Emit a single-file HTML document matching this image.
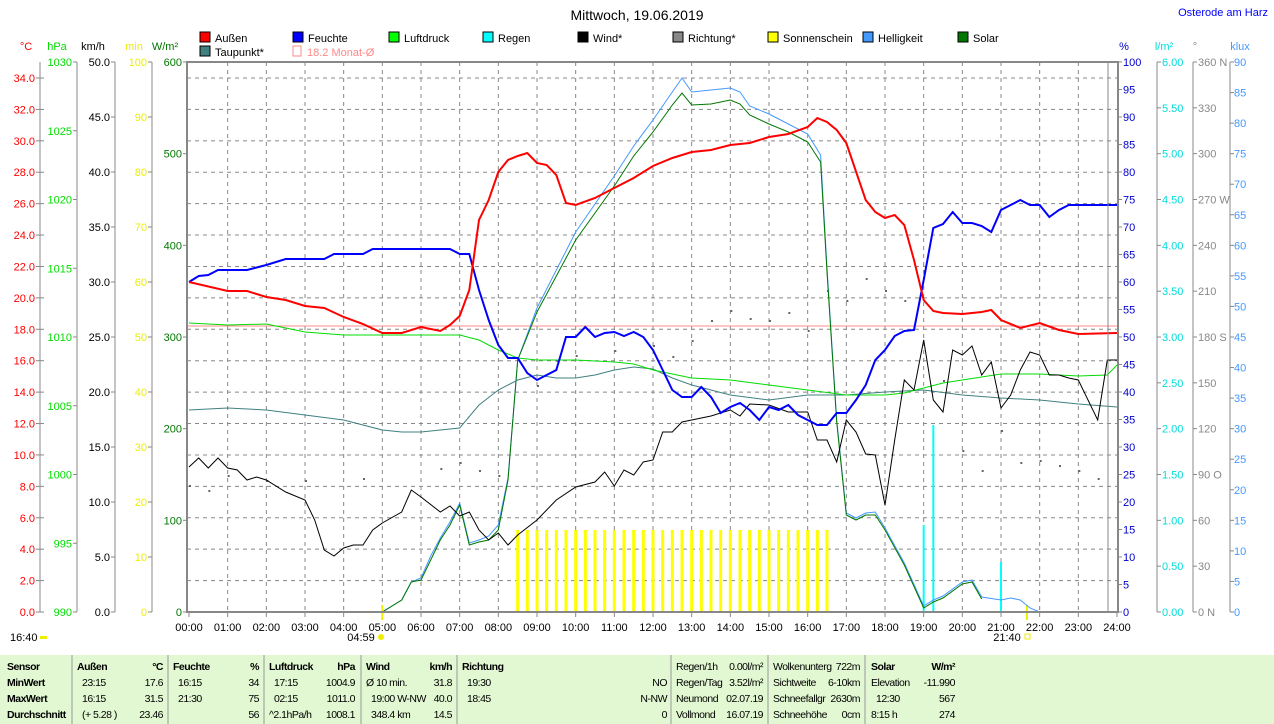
<!DOCTYPE html>
<html><head><meta charset="utf-8"><style>
body{margin:0;width:1274px;height:724px;background:#fff;overflow:hidden;font-family:"Liberation Sans",sans-serif}
svg{position:absolute;left:0;top:0}
.t text{font-size:10.5px;letter-spacing:-0.5px}
</style></head><body>
<svg id="s" width="1274" height="724" font-family="Liberation Sans, sans-serif" font-size="11"></svg>
<script>
const S=document.getElementById('s');let h='';
const X=t=>189+t*928/24;
function P(str){return str.trim().split(/\s+/).map(p=>{const [t,y]=p.split(',');const [a,b]=t.split(':');return X(+a+(+b)/60).toFixed(1)+','+y}).join(' ')}
function line(d,c,w){h+=`<polyline points="${P(d)}" fill="none" stroke="${c}" stroke-width="${w}"/>`}
function txt(x,y,s,c,a,extra){h+=`<text x="${x}" y="${y}" fill="${c}" text-anchor="${a||'start'}" ${extra||''}>${s}</text>`}
h+=`<rect x="0" y="655" width="1274" height="69" fill="#e2f8d2"/>`;
for(let i=1;i<24;i++)h+=`<line x1="${X(i)}" y1="62" x2="${X(i)}" y2="612" stroke="#888" stroke-dasharray="4,4"/>`;
for(let v=2;v<=34;v+=2){let y=612-v*15.706;h+=`<line x1="187" y1="${y}" x2="1117" y2="${y}" stroke="#888" stroke-dasharray="4,4"/>`}
h+=`<line x1="40" y1="62" x2="40" y2="612" stroke="#888"/>`;
for(let v=0;v<=34;v+=2){let y=612-v*15.706;h+=`<line x1="36" y1="${y}" x2="44" y2="${y}" stroke="#888"/>`;txt(35,y+4,v.toFixed(1),'#f00','end')}
h+=`<line x1="77" y1="62" x2="77" y2="612" stroke="#888"/>`;
for(let v=990;v<=1030;v+=5){let y=612-(v-990)*13.75;h+=`<line x1="73" y1="${y}" x2="77" y2="${y}" stroke="#888"/>`;txt(72,y+4,v,'#0d0','end')}
h+=`<line x1="115" y1="62" x2="115" y2="612" stroke="#888"/>`;
for(let v=0;v<=50;v+=5){let y=612-v*11;h+=`<line x1="111" y1="${y}" x2="115" y2="${y}" stroke="#888"/>`;txt(110,y+4,v.toFixed(1),'#000','end')}
h+=`<line x1="152" y1="62" x2="152" y2="612" stroke="#888"/>`;
for(let v=0;v<=100;v+=10){let y=612-v*5.5;h+=`<line x1="148" y1="${y}" x2="152" y2="${y}" stroke="#888"/>`;txt(147,y+4,v,'#ee0','end')}
for(let v=0;v<=600;v+=100){let y=612-v*550/600;h+=`<line x1="183" y1="${y}" x2="187" y2="${y}" stroke="#888"/>`;txt(182,y+4,v,'#070','end')}
txt(26,50,'°C','#f00','middle');txt(57,50,'hPa','#0d0','middle');txt(93,50,'km/h','#000','middle');txt(134,50,'min','#ee0','middle');txt(165,50,'W/m²','#070','middle');
for(let v=0;v<=100;v+=5){let y=612-v*5.5;h+=`<line x1="1118" y1="${y}" x2="1122" y2="${y}" stroke="#888"/>`;txt(1123,y+4,v,'#00c')}
h+=`<line x1="1157" y1="62" x2="1157" y2="612" stroke="#888"/>`;
for(let v=0;v<=6;v+=0.5){let y=612-v*550/6;h+=`<line x1="1157" y1="${y}" x2="1161" y2="${y}" stroke="#888"/>`;txt(1162,y+4,v.toFixed(2),'#0dd')}
h+=`<line x1="1193" y1="62" x2="1193" y2="612" stroke="#888"/>`;
const dl={0:'0 N',90:'90 O',180:'180 S',270:'270 W',360:'360 N'};
for(let v=0;v<=360;v+=30){let y=612-v*550/360;h+=`<line x1="1193" y1="${y}" x2="1197" y2="${y}" stroke="#888"/>`;txt(1198,y+4,dl[v]||v,'#888')}
h+=`<line x1="1230" y1="62" x2="1230" y2="612" stroke="#888"/>`;
for(let v=0;v<=90;v+=5){let y=612-v*550/90;h+=`<line x1="1230" y1="${y}" x2="1234" y2="${y}" stroke="#888"/>`;txt(1234,y+4,v,'#49f')}
txt(1124,50,'%','#00c','middle');txt(1164,50,'l/m²','#0dd','middle');txt(1195,50,'°','#888','middle');txt(1240,50,'klux','#49f','middle');
for(let i=0;i<=24;i++){h+=`<line x1="${X(i)}" y1="612" x2="${X(i)}" y2="617" stroke="#888"/>`;txt(X(i),631,(i<10?'0':'')+i+':00','#000','middle')}
txt(361,641,'04:59','#000','middle');h+=`<circle cx="381" cy="637" r="3" fill="#ee0"/>`;
txt(1007,641,'21:40','#000','middle');h+=`<rect x="1025" y="634" width="5" height="5" fill="none" stroke="#ee0"/>`;
txt(10,641,'16:40','#000');h+=`<rect x="40" y="636" width="7" height="3" fill="#ee0"/>`;
txt(637,20,'Mittwoch, 19.06.2019','#000','middle','font-size="14"');
txt(1268,16,'Osterode am Harz','#00f','end');
const L=[['Außen','#f00',200],['Feuchte','#00f',293],['Luftdruck','#0f0',389],['Regen','#0ff',483],['Wind*','#000',578],['Richtung*','#888',673],['Sonnenschein','#ff0',768],['Helligkeit','#49f',863],['Solar','#070',958]];
L.forEach(l=>{h+=`<rect x="${l[2]}" y="32" width="10" height="10" fill="${l[1]}" stroke="#000"/>`;txt(l[2]+15,42,l[0],'#000')});
h+=`<rect x="200" y="46" width="10" height="10" fill="#408080" stroke="#000"/>`;txt(215,56,'Taupunkt*','#000');
h+=`<rect x="293" y="46" width="8" height="10" fill="none" stroke="#f88"/>`;txt(307,56,'18.2 Monat-Ø','#f88');
for(let t=8.5;t<=16.51;t+=0.25)h+=`<rect x="${X(t)-1.5}" y="530" width="3" height="82" fill="#ff0"/>`;
h+=`<rect x="${X(5)-1}" y="605" width="2" height="15" fill="#ee0"/><rect x="${X(21.67)-1}" y="605" width="2" height="15" fill="#ee0"/>`;
h+=`<rect x="${X(19)-1}" y="525" width="2" height="87" fill="#0ff"/><rect x="${X(19.25)-1}" y="425" width="2" height="187" fill="#0ff"/><rect x="${X(21)-1}" y="562" width="2" height="50" fill="#0ff"/>`;
h+=`<line x1="187" y1="326" x2="1117" y2="326" stroke="#f88"/>`;
const dots=[[0,485],[0.5,490],[1,475],[2,480],[3,480],[4.5,478],[6.5,468],[7,462],[7.5,470],[8,475],[9,385],[9.5,360],[10,355],[11,350],[12,345],[12.5,356],[13,340],[13.5,320],[14,310],[14.5,318],[15,320],[15.5,312],[16,330],[16.5,290],[17,300],[17.5,278],[18,290],[18.5,300],[19,270],[19.5,380],[20,450],[20.5,470],[21,430],[21.5,462],[22,460],[22.5,465],[23,470],[23.5,478]];
dots.forEach(d=>h+=`<rect x="${X(d[0])}" y="${d[1]}" width="2" height="2" fill="#666"/>`);
line('0:00,612 5:00,612 5:30,600 5:45,582 6:00,578 6:15,556 6:30,538 6:45,522 7:00,503 7:15,543 7:30,540 7:45,536 8:00,525 8:15,478 8:30,360 9:00,308 10:00,232 11:00,176 11:30,146 12:00,120 12:30,92 12:45,78 13:00,92 13:30,90 14:00,88 14:15,92 14:30,106 15:00,114 15:30,124 16:00,134 16:20,155 16:30,268 16:45,420 17:00,513 17:15,518 17:30,513 17:45,512 18:00,528 18:30,563 19:00,606 19:15,600 19:30,596 20:00,582 20:15,580 20:30,597 21:00,600 21:15,598 21:30,600 21:45,608 22:00,612','#49f',1);
line('0:00,612 5:00,612 5:30,600 5:45,582 6:00,580 6:15,560 6:30,540 6:45,525 7:00,505 7:15,545 7:30,542 7:45,540 8:00,530 8:15,480 8:30,360 9:00,312 10:00,240 11:00,186 11:30,156 12:00,132 12:30,105 12:45,93 13:00,105 13:30,104 14:00,100 14:15,104 14:30,115 15:00,124 15:30,132 16:00,142 16:20,162 16:30,272 16:45,422 17:00,515 17:15,520 17:30,515 17:45,515 18:00,530 18:30,565 19:00,608 19:15,602 19:30,598 20:00,584 20:15,582 20:30,599','#070',1);
line('0:00,410 1:00,408 2:00,410 3:00,415 4:00,420 5:00,430 5:30,432 6:00,432 7:00,428 7:30,405 8:00,390 8:30,380 9:00,375 9:30,378 10:00,378 10:30,375 11:00,370 11:30,367 12:00,369 12:30,378 13:00,385 14:00,395 15:00,400 16:00,395 17:00,395 18:00,392 19:00,390 20:00,395 21:00,398 22:00,400 23:00,404 24:00,407','#408080',1);
line('0:00,323 1:00,325 2:00,324 3:00,332 4:00,335 7:00,335 7:30,340 8:00,350 8:30,358 9:00,360 10:00,360 11:00,362 11:30,364 12:00,370 13:00,378 14:00,380 15:00,385 16:00,390 17:00,395 18:00,395 18:30,393 19:00,388 19:30,383 20:00,380 20:30,377 21:00,374 22:00,374 23:00,376 23:45,375 24:00,365','#0d0',1);
line('0:00,467 0:15,458 0:30,468 0:45,458 1:00,468 1:15,470 1:30,480 1:45,477 2:00,480 2:30,492 3:00,500 3:15,520 3:30,550 3:45,556 4:00,548 4:15,545 4:30,545 4:45,530 5:00,523 5:30,512 5:45,490 6:00,497 6:30,512 6:45,506 7:00,516 7:15,512 7:30,530 7:45,540 8:00,533 8:15,545 8:30,535 9:00,520 9:30,500 10:00,487 10:30,482 10:45,472 11:00,486 11:15,470 11:30,475 11:45,462 12:00,460 12:15,432 12:30,432 12:45,422 13:00,420 13:30,416 14:00,410 14:15,416 14:30,404 15:00,405 15:30,412 16:00,412 16:15,440 16:30,440 16:45,462 17:00,420 17:15,432 17:30,454 17:45,455 18:00,505 18:15,440 18:30,380 18:45,390 19:00,340 19:15,400 19:30,412 19:45,350 20:00,355 20:15,346 20:30,375 20:45,362 21:00,408 21:15,395 21:30,370 21:45,352 22:00,355 22:15,375 22:30,375 22:45,378 23:00,380 23:30,420 23:45,360 24:00,360','#000',1);
line('0:00,282 0:15,276 0:30,275 0:45,270 1:30,270 2:00,265 2:30,259 3:30,259 3:45,254 4:30,254 4:45,249 6:45,249 7:00,254 7:15,254 7:30,290 7:45,320 8:00,345 8:15,358 8:30,358 8:45,373 9:00,380 9:30,370 9:45,337 10:00,337 10:15,327 10:30,337 10:45,333 11:00,332 11:15,336 11:30,332 11:45,337 12:00,350 12:15,370 12:30,390 12:45,397 13:00,397 13:15,387 13:30,397 13:45,413 14:00,407 14:15,403 14:30,410 14:45,420 15:00,407 15:15,410 15:30,405 15:45,415 16:00,420 16:15,425 16:30,425 16:45,413 17:00,413 17:15,400 17:30,385 17:45,360 18:00,350 18:15,336 18:30,331 18:45,330 19:00,280 19:15,228 19:30,224 19:45,212 20:00,223 20:15,223 20:30,226 20:45,232 21:00,210 21:15,205 21:30,200 21:45,205 22:00,205 22:15,217 22:30,210 22:45,205 23:00,205 24:00,205','#00f',2);
line('0:00,282 1:00,291 1:30,291 2:00,297 2:30,300 3:00,306 3:30,308 4:00,317 4:30,324 5:00,333 5:30,333 6:00,327 6:30,331 6:45,325 7:00,316 7:15,290 7:30,220 7:45,200 8:00,172 8:15,160 8:30,156 8:45,153 9:00,163 9:15,165 9:30,175 9:45,203 10:00,205 10:30,198 11:00,188 11:30,178 12:00,166 12:30,158 13:00,152 13:30,150 14:00,145 14:30,143 15:00,137 15:30,134 16:00,127 16:15,118 16:30,122 16:45,130 17:00,143 17:30,200 17:45,212 18:00,218 18:15,215 18:30,225 18:45,260 19:00,300 19:15,311 19:30,313 20:00,314 20:30,312 20:45,310 21:00,320 21:30,328 22:00,323 22:30,330 23:00,334 24:00,333','#f00',2);
h+=`<rect x="187" y="62" width="931" height="550" fill="none" stroke="#888" stroke-width="2"/>`;
h+=`<line x1="1108" y1="62" x2="1108" y2="612" stroke="#888"/>`;
h+='<g class="t">';
[72,168,264,361,457,671,768,865].forEach(x=>h+=`<line x1="${x}" y1="655" x2="${x}" y2="724" stroke="#999"/>`);
const rows=[665,681,697,713];
const B='font-weight="bold"';
['Sensor','MinWert','MaxWert','Durchschnitt'].forEach((s,i)=>txt(7,rows[i]+5,s,'#000','start',B));
function col(x1,x2,hdr,unit,data){txt(x1,rows[0]+5,hdr,'#000','start',B);txt(x2,rows[0]+5,unit,'#000','end',B);data.forEach((d,i)=>{txt(x1+d[2],rows[i+1]+5,d[0],'#000');txt(x2,rows[i+1]+5,d[1],'#000','end')})}
col(77,163,'Außen','°C',[['23:15','17.6',5],['16:15','31.5',5],['(+ 5.28 )','23.46',5]]);
col(173,259,'Feuchte','%',[['16:15','34',5],['21:30','75',5],['','56',5]]);
col(269,355,'Luftdruck','hPa',[['17:15','1004.9',5],['02:15','1011.0',5],['^2.1hPa/h','1008.1',0]]);
col(366,452,'Wind','km/h',[['Ø 10 min.','31.8',0],['19:00   W-NW','40.0',5],['348.4 km','14.5',5]]);
txt(462,670,'Richtung','#000','start',B);
[['19:30','NO'],['18:45','N-NW'],['','0']].forEach((d,i)=>{txt(467,rows[i+1]+5,d[0],'#000');txt(667,rows[i+1]+5,d[1],'#000','end')});
const r2=[['Regen/1h','0.00l/m²'],['Regen/Tag','3.52l/m²'],['Neumond','02.07.19'],['Vollmond','16.07.19']];
r2.forEach((d,i)=>{txt(676,rows[i]+5,d[0],'#000');txt(763,rows[i]+5,d[1],'#000','end')});
const r3=[['Wolkenunterg','722m'],['Sichtweite','6-10km'],['Schneefallgr','2630m'],['Schneehöhe','0cm']];
r3.forEach((d,i)=>{txt(773,rows[i]+5,d[0],'#000');txt(860,rows[i]+5,d[1],'#000','end')});
txt(871,670,'Solar','#000','start',B);txt(955,670,'W/m²','#000','end',B);
[['Elevation','-11.990'],['  12:30','567'],['8:15 h','274']].forEach((d,i)=>{txt(871+(i==1?5:0),rows[i+1]+5,d[0],'#000');txt(955,rows[i+1]+5,d[1],'#000','end')});
h+='</g>';
S.innerHTML=h;
</script>
</body></html>
